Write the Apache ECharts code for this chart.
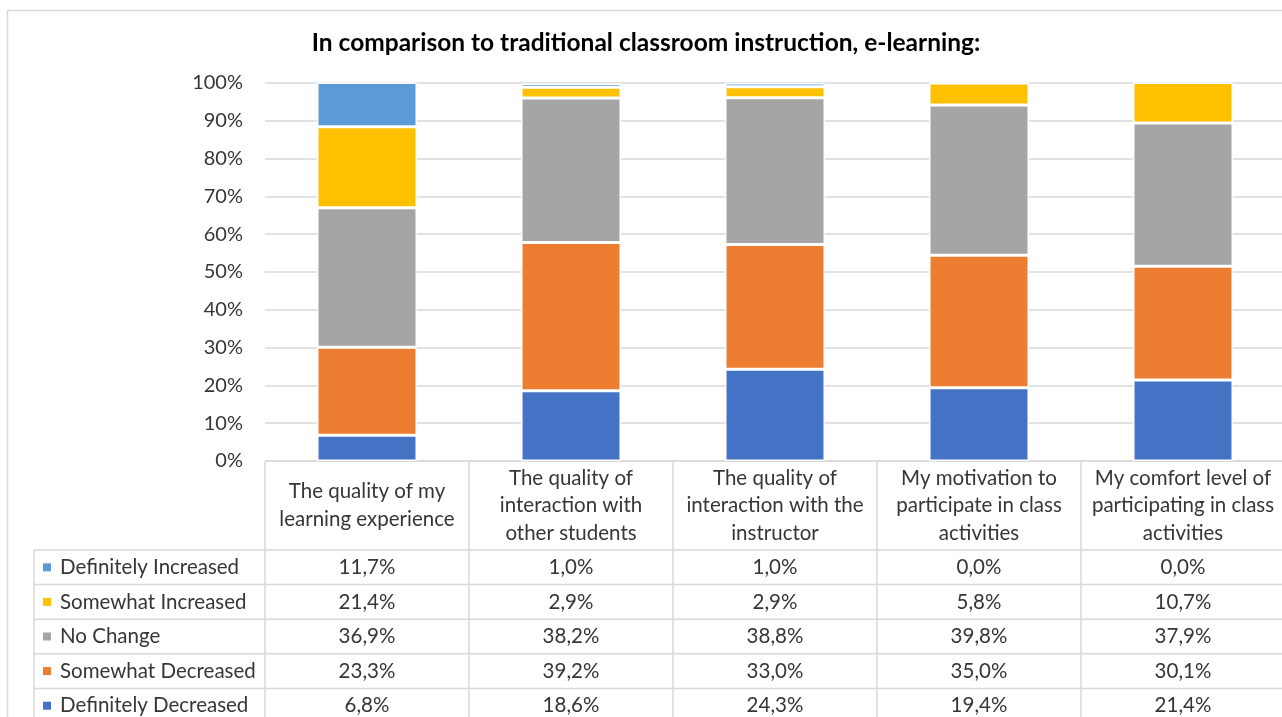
<!DOCTYPE html>
<html>
<head>
<meta charset="utf-8">
<script src="https://cdn.jsdelivr.net/npm/echarts@6/dist/echarts.min.js"></script>
<style>
  html, body { margin: 0; padding: 0; background: #fff; }
  #chart { width: 1282px; height: 717px; }
</style>
</head>
<body>
<div id="chart"></div>
<script>
// categories (line breaks as in the source table header)
var categories = [
  'The quality of my\nlearning experience',
  'The quality of\ninteraction with\nother students',
  'The quality of\ninteraction with the\ninstructor',
  'My motivation to\nparticipate in class\nactivities',
  'My comfort level of\nparticipating in class\nactivities'
];

// table row order, top to bottom
var seriesNames = ['Definitely Increased', 'Somewhat Increased', 'No Change', 'Somewhat Decreased', 'Definitely Decreased'];
var seriesColors = ['#5B9BD5', '#FFC000', '#A5A5A5', '#ED7D31', '#4472C4'];

var definitelyIncreased = [11.7, 1.0, 1.0, 0.0, 0.0];
var somewhatIncreased   = [21.4, 2.9, 2.9, 5.8, 10.7];
var noChange            = [36.9, 38.2, 38.8, 39.8, 37.9];
var somewhatDecreased   = [23.3, 39.2, 33.0, 35.0, 30.1];
var definitelyDecreased = [6.8, 18.6, 24.3, 19.4, 21.4];

var seriesValues = [definitelyIncreased, somewhatIncreased, noChange, somewhatDecreased, definitelyDecreased];

var chart = echarts.init(document.getElementById('chart'));

// layout
var FONT = 'Lato';
var TXT = '#363636';
var LINE = '#d9d9d9';
var gridLeft = 265, gridTop = 83, gridW = 1020, gridH = 378;
var colW = gridW / categories.length;
var tableTop = gridTop + gridH;
var headerBottom = 550;
var rowH = 34.6;
var tableLeft = 34;
var tableRight = gridLeft + gridW;
var cellFont = '20.5px ' + FONT;

function fmt(v){
  return v.toFixed(1).replace('.', ',') + '%';
}

var elements = [];

// outer chart border
elements.push({
  type: 'rect',
  shape: { x: 7.5, y: 10.5, width: 1290, height: 730 },
  style: { fill: 'none', stroke: LINE, lineWidth: 1.5 },
  silent: true
});

// horizontal table lines
elements.push({ type: 'line', shape: { x1: gridLeft, y1: tableTop, x2: tableRight, y2: tableTop }, style: { stroke: LINE, lineWidth: 1.5 } });
for (var r = 0; r <= seriesNames.length; r++){
  var yy = headerBottom + r * rowH;
  elements.push({ type: 'line', shape: { x1: tableLeft, y1: yy, x2: tableRight, y2: yy }, style: { stroke: LINE, lineWidth: 1.5 } });
}
// vertical table lines
elements.push({ type: 'line', shape: { x1: tableLeft, y1: headerBottom, x2: tableLeft, y2: 740 }, style: { stroke: LINE, lineWidth: 1.5 } });
for (var c = 0; c <= categories.length; c++){
  var xx = gridLeft + c * colW;
  elements.push({ type: 'line', shape: { x1: xx, y1: tableTop, x2: xx, y2: 740 }, style: { stroke: LINE, lineWidth: 1.5 } });
}

// header cells
for (var c = 0; c < categories.length; c++){
  elements.push({
    type: 'text',
    style: {
      text: categories[c],
      x: gridLeft + (c + 0.5) * colW,
      y: (tableTop + headerBottom) / 2,
      align: 'center',
      verticalAlign: 'middle',
      font: cellFont,
      lineHeight: 27.5,
      fill: TXT
    }
  });
}

// data rows with legend keys
for (var r = 0; r < seriesNames.length; r++){
  var cy = headerBottom + (r + 0.5) * rowH;
  elements.push({
    type: 'rect',
    shape: { x: 43, y: cy - 4, width: 8, height: 8 },
    style: { fill: seriesColors[r] }
  });
  elements.push({
    type: 'text',
    style: { text: seriesNames[r], x: 60, y: cy, align: 'left', verticalAlign: 'middle', font: cellFont, fill: TXT }
  });
  for (var c = 0; c < categories.length; c++){
    elements.push({
      type: 'text',
      style: {
        text: fmt(seriesValues[r][c]),
        x: gridLeft + (c + 0.5) * colW,
        y: cy,
        align: 'center',
        verticalAlign: 'middle',
        font: cellFont,
        fill: TXT
      }
    });
  }
}

// stacked bars, bottom to top
var series = [];
for (var i = seriesNames.length - 1; i >= 0; i--){
  series.push({
    name: seriesNames[i],
    type: 'bar',
    stack: 'total',
    barWidth: '49%',
    data: seriesValues[i],
    itemStyle: { color: seriesColors[i], borderColor: '#fff', borderWidth: 1.5 },
    emphasis: { disabled: true }
  });
}

var option = {
  backgroundColor: '#fff',
  animation: false,
  title: {
    text: 'In comparison to traditional classroom instruction, e-learning:',
    left: 646,
    textAlign: 'center',
    top: 31,
    padding: 0,
    textStyle: { fontFamily: FONT, fontSize: 24.5, fontWeight: 'bold', color: '#000' }
  },
  grid: {
    left: gridLeft, top: gridTop, width: gridW, height: gridH,
    containLabel: false,
    outerBoundsMode: 'none'
  },
  xAxis: {
    type: 'category',
    data: categories,
    axisLabel: { show: false },
    axisTick: { show: false },
    axisLine: { show: false }
  },
  yAxis: {
    type: 'value',
    min: 0,
    max: 100,
    interval: 10,
    axisLabel: { formatter: '{value}%', fontFamily: FONT, fontSize: 20, color: TXT, margin: 22 },
    axisLine: { show: false },
    axisTick: { show: false },
    splitLine: { lineStyle: { color: LINE, width: 1.5 } }
  },
  series: series,
  graphic: { elements: elements }
};

chart.setOption(option);
</script>
</body>
</html>
